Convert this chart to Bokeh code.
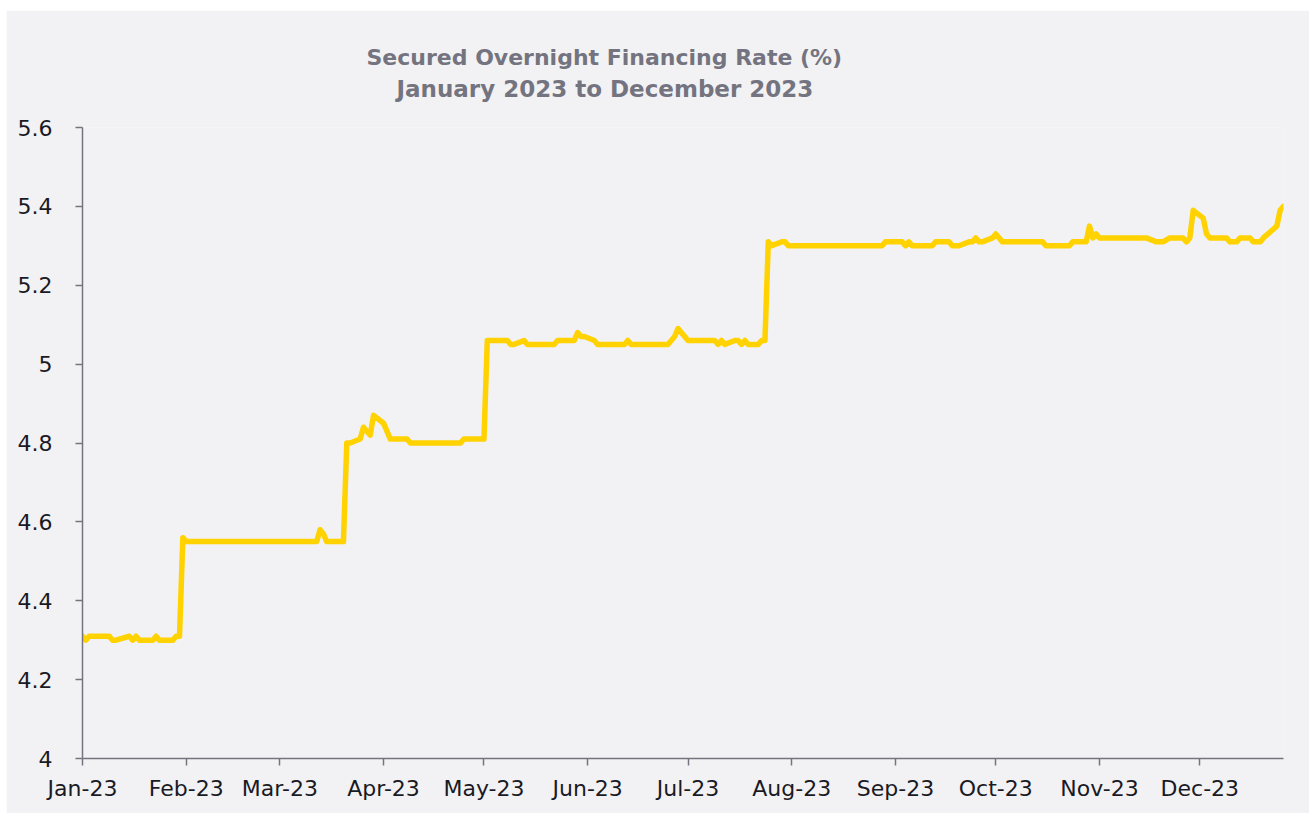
from bokeh.plotting import figure
from bokeh.models import Range1d, FixedTicker, DatetimeTickFormatter, CustomJSTickFormatter, Title
from bokeh.embed import file_html
from bokeh.resources import INLINE
import pandas as pd

# ---- data (vertex points) ----
dates = [
    "2023-01-03", "2023-01-04", "2023-01-05", "2023-01-06", "2023-01-09", "2023-01-10",
    "2023-01-11", "2023-01-12", "2023-01-13", "2023-01-17", "2023-01-18", "2023-01-19",
    "2023-01-20", "2023-01-23", "2023-01-24", "2023-01-25", "2023-01-26", "2023-01-27",
    "2023-01-30", "2023-01-31", "2023-02-01", "2023-02-02", "2023-02-03", "2023-03-14",
    "2023-03-15", "2023-03-16", "2023-03-17", "2023-03-22", "2023-03-23", "2023-03-24",
    "2023-03-27", "2023-03-28", "2023-03-29", "2023-03-30", "2023-03-31", "2023-04-03",
    "2023-04-04", "2023-04-05", "2023-04-10", "2023-04-11", "2023-04-26", "2023-04-27",
    "2023-05-03", "2023-05-04", "2023-05-10", "2023-05-11", "2023-05-12", "2023-05-15",
    "2023-05-16", "2023-05-24", "2023-05-25", "2023-05-30", "2023-05-31", "2023-06-01",
    "2023-06-02", "2023-06-05", "2023-06-06", "2023-06-14", "2023-06-15", "2023-06-16",
    "2023-06-27", "2023-06-28", "2023-06-29", "2023-06-30", "2023-07-03", "2023-07-11",
    "2023-07-12", "2023-07-13", "2023-07-14", "2023-07-17", "2023-07-18", "2023-07-19",
    "2023-07-20", "2023-07-21", "2023-07-24", "2023-07-25", "2023-07-26", "2023-07-27",
    "2023-07-28", "2023-07-31", "2023-08-01", "2023-08-02", "2023-08-30", "2023-08-31",
    "2023-09-01", "2023-09-05", "2023-09-06", "2023-09-07", "2023-09-08", "2023-09-14",
    "2023-09-15", "2023-09-19", "2023-09-20", "2023-09-22", "2023-09-25", "2023-09-26",
    "2023-09-27", "2023-09-28", "2023-09-29", "2023-10-02", "2023-10-03", "2023-10-04",
    "2023-10-05", "2023-10-17", "2023-10-18", "2023-10-25", "2023-10-26", "2023-10-30",
    "2023-10-31", "2023-11-01", "2023-11-02", "2023-11-03", "2023-11-17", "2023-11-20",
    "2023-11-22", "2023-11-24", "2023-11-28", "2023-11-29", "2023-11-30", "2023-12-01",
    "2023-12-04", "2023-12-05", "2023-12-06", "2023-12-11", "2023-12-12", "2023-12-14",
    "2023-12-15", "2023-12-18", "2023-12-19", "2023-12-21", "2023-12-22", "2023-12-26",
    "2023-12-27", "2023-12-28",
]
sofr = [
    4.31, 4.30, 4.31, 4.31, 4.31, 4.31,
    4.31, 4.30, 4.30, 4.31, 4.30, 4.31,
    4.30, 4.30, 4.30, 4.31, 4.30, 4.30,
    4.30, 4.31, 4.31, 4.56, 4.55, 4.55,
    4.58, 4.57, 4.55, 4.55, 4.80, 4.80,
    4.81, 4.84, 4.83, 4.82, 4.87, 4.85,
    4.83, 4.81, 4.81, 4.80, 4.80, 4.81,
    4.81, 5.06, 5.06, 5.05, 5.05, 5.06,
    5.05, 5.05, 5.06, 5.06, 5.08, 5.07,
    5.07, 5.06, 5.05, 5.05, 5.06, 5.05,
    5.05, 5.06, 5.07, 5.09, 5.06, 5.06,
    5.05, 5.06, 5.05, 5.06, 5.06, 5.05,
    5.06, 5.05, 5.05, 5.06, 5.06, 5.31,
    5.30, 5.31, 5.31, 5.30, 5.30, 5.31,
    5.31, 5.31, 5.30, 5.31, 5.30, 5.30,
    5.31, 5.31, 5.30, 5.30, 5.31, 5.31,
    5.32, 5.31, 5.31, 5.32, 5.33, 5.32,
    5.31, 5.31, 5.30, 5.30, 5.31, 5.31,
    5.35, 5.32, 5.33, 5.32, 5.32, 5.31,
    5.31, 5.32, 5.32, 5.31, 5.32, 5.39,
    5.37, 5.33, 5.32, 5.32, 5.31, 5.31,
    5.32, 5.32, 5.31, 5.31, 5.32, 5.35,
    5.39, 5.40,
]
tick_dates = [
    "2023-01-03", "2023-02-03", "2023-03-03", "2023-04-03", "2023-05-03", "2023-06-03",
    "2023-07-03", "2023-08-03", "2023-09-03", "2023-10-03", "2023-11-03", "2023-12-03",
]
y_ticks = [4.0, 4.2, 4.4, 4.6, 4.8, 5.0, 5.2, 5.4, 5.6]
title_line1 = "Secured Overnight Financing Rate (%)"
title_line2 = "January 2023 to December 2023"

BG = "#f2f2f4"
GREY = "#747480"
YELLOW = "#ffd200"
FONT = "DejaVu Sans"

x = pd.to_datetime(dates)
ticks_ms = [pd.Timestamp(d).value // 10**6 for d in tick_dates]

p = figure(
    width=1303, height=803, output_backend="svg", toolbar_location=None,
    x_axis_type="datetime",
    x_range=Range1d(pd.Timestamp("2023-01-03"), pd.Timestamp("2023-12-28")),
    y_range=Range1d(4.0, 5.6),
    min_border_left=76, min_border_right=26, min_border_top=117, min_border_bottom=55,
)
p.styles = {"margin-left": "6px", "margin-top": "10px"}
p.title.visible = False
p.background_fill_color = BG
p.border_fill_color = BG
p.outline_line_color = None
p.xgrid.visible = False
p.ygrid.visible = False

# titles stacked upward from the frame: spacer, subtitle, main title
spacer = Title(text=" ", text_font=FONT, text_font_size="22px", standoff=0)
sub = Title(text=title_line2, align="left", text_font=FONT, text_font_size="23px",
            text_font_style="bold", text_color=GREY, offset=314, standoff=-3)
main = Title(text=title_line1, align="left", text_font=FONT, text_font_size="22px",
             text_font_style="bold", text_color=GREY, offset=284, standoff=11)
p.add_layout(spacer, "above")
p.add_layout(sub, "above")
p.add_layout(main, "above")

p.line(x, sofr, line_color=YELLOW, line_width=5.5, line_join="round", line_cap="round")

xa = p.xaxis[0]
xa.ticker = FixedTicker(ticks=ticks_ms)
fmt = "%b-%y"
xa.formatter = DatetimeTickFormatter(
    microseconds=fmt, milliseconds=fmt, seconds=fmt, minsec=fmt, minutes=fmt,
    hourmin=fmt, hours=fmt, days=fmt, months=fmt, years=fmt)
ya = p.yaxis[0]
ya.ticker = FixedTicker(ticks=y_ticks)
ya.formatter = CustomJSTickFormatter(code="return String(Number(tick.toFixed(1)));")

for ax in (xa, ya):
    ax.axis_line_color = GREY
    ax.axis_line_width = 1.5
    ax.major_tick_line_color = GREY
    ax.major_tick_line_width = 1.5
    ax.major_tick_in = 0
    ax.major_tick_out = 7
    ax.minor_tick_line_color = None
    ax.major_label_text_font = FONT
    ax.major_label_text_font_size = "22px"
    ax.major_label_text_color = "#1a1a24"
xa.major_label_standoff = 10
ya.major_label_standoff = 23

open("out.html", "w").write(file_html(p, INLINE))
